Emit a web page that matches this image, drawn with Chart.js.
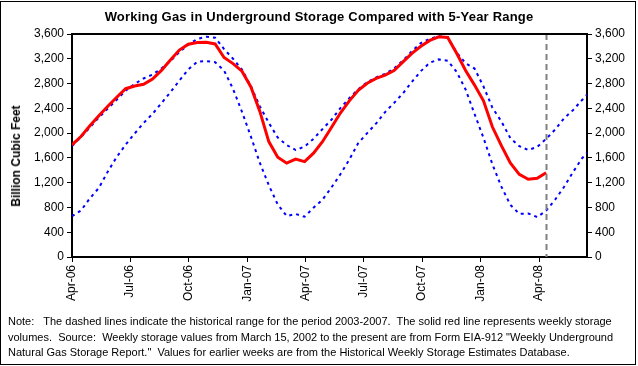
<!DOCTYPE html>
<html>
<head>
<meta charset="utf-8">
<script src="https://cdn.jsdelivr.net/npm/chart.js@4.4.1/dist/chart.umd.min.js"></script>
<style>
  html, body { margin: 0; padding: 0; background: #fff; }
  #wrap { position: relative; width: 638px; height: 366px; overflow: hidden; font-family: "Liberation Sans", Arial, sans-serif; }
  #frame { position: absolute; left: 0; top: 1px; width: 634px; height: 362px; border: 1px solid #000; }
  #chart { position: absolute; left: 0; top: 0; }
  #title { position: absolute; left: 0; width: 638px; top: 9px; text-align: center; font-weight: bold; font-size: 13px; letter-spacing: 0.2px; line-height: 16px; }
  #ytitle { position: absolute; left: 15.5px; top: 156px; font-weight: bold; font-size: 12px; line-height: 14px; white-space: nowrap;
            transform: translate(-50%, -50%) rotate(-90deg); }
  #note { position: absolute; left: 8px; top: 314px; font-size: 11px; line-height: 15.5px; white-space: pre; }
</style>
</head>
<body>
<div id="wrap">
  <div id="frame"></div>
  <canvas id="chart" width="638" height="366"></canvas>
  <div id="title">Working Gas in Underground Storage Compared with 5-Year Range</div>
  <div id="ytitle">Billion Cubic Feet</div>
  <div id="note">Note:   The dashed lines indicate the historical range for the period 2003-2007.  The solid red line represents weekly storage
volumes.  Source:  Weekly storage values from March 15, 2002 to the present are from Form EIA-912 "Weekly Underground
Natural Gas Storage Report."  Values for earlier weeks are from the Historical Weekly Storage Estimates Database.</div>
</div>
<script>
  // days since 2006-04-01
  const days = [0, 14, 28, 42, 56, 70, 84, 98, 112, 126, 140, 154, 168, 182, 196, 210, 224, 238, 252, 266,
    280, 294, 308, 322, 336, 350, 364, 378, 392, 406, 420, 434, 448, 462, 476, 490, 504, 518, 532, 546,
    560, 574, 588, 602, 616, 630, 644, 658, 672, 686, 700, 714, 728, 742, 756, 770, 784, 798, 806];

  // 5-year range (2003-2007), billion cubic feet
  const rangeMax = [1790, 1935, 2091, 2251, 2396, 2539, 2685, 2794, 2882, 2945, 3044, 3162, 3310, 3426, 3520, 3556, 3540, 3357, 3200, 3026,
    2757, 2431, 2166, 1928, 1808, 1727, 1783, 1908, 2065, 2215, 2404, 2565, 2709, 2820, 2900, 2955, 3042, 3172, 3323, 3455,
    3522, 3563, 3545, 3300, 3128, 3042, 2753, 2409, 2188, 1920, 1790, 1727, 1776, 1905, 2056, 2237, 2370, 2531, 2620];
  const rangeMin = [660, 750, 948, 1115, 1378, 1615, 1815, 1993, 2162, 2310, 2484, 2661, 2847, 3029, 3152, 3163, 3145, 3010, 2714, 2345,
    1944, 1518, 1158, 848, 662, 694, 650, 796, 925, 1121, 1336, 1573, 1839, 2000, 2156, 2340, 2487, 2642, 2829, 3001,
    3137, 3190, 3168, 2988, 2705, 2309, 1924, 1495, 1136, 842, 697, 703, 645, 747, 924, 1130, 1368, 1591, 1680];

  // weekly storage (first 54 dates)
  const storage = [1810, 1945, 2119, 2281, 2434, 2578, 2717, 2760, 2788, 2873, 3012, 3179, 3340, 3436, 3462, 3468, 3440, 3220, 3122, 3000,
    2746, 2350, 1863, 1612, 1515, 1580, 1540, 1676, 1861, 2090, 2324, 2520, 2690, 2805, 2883, 2935, 3010, 3151, 3288, 3401,
    3497, 3555, 3545, 3290, 3011, 2775, 2522, 2098, 1797, 1520, 1335, 1254, 1270, 1360];

  const tickDays = [0, 91, 183, 275, 365, 456, 548, 640, 731];
  const tickLabels = ["Apr-06", "Jul-06", "Oct-06", "Jan-07", "Apr-07", "Jul-07", "Oct-07", "Jan-08", "Apr-08"];
  const latestDay = 742;

  function pts(vals) {
    return vals.map((v, i) => ({ x: days[i], y: v }));
  }

  const fontTicks = { family: "'Liberation Sans', Arial, sans-serif", size: 12 };

  // top border of plot box + dashed marker for latest week
  const framePlugin = {
    id: "framePlugin",
    afterDatasetsDraw(chart) {
      const { ctx, chartArea } = chart;
      const x = Math.round(chart.scales.x.getPixelForValue(latestDay)) + 0.5;
      ctx.save();
      ctx.strokeStyle = "#808080";
      ctx.lineWidth = 2;
      ctx.setLineDash([6, 4]);
      ctx.beginPath();
      ctx.moveTo(x, chartArea.top);
      ctx.lineTo(x, chartArea.bottom);
      ctx.stroke();
      ctx.setLineDash([]);
      ctx.strokeStyle = "#000";
      ctx.beginPath();
      ctx.moveTo(chartArea.left - 1, chartArea.top);
      ctx.lineTo(chartArea.right + 1, chartArea.top);
      ctx.stroke();
      ctx.restore();
    }
  };

  function yAxis(pos, width) {
    return {
      type: "linear",
      position: pos,
      min: 0,
      max: 3600,
      afterFit: (s) => { s.width = width; },
      ticks: {
        stepSize: 400,
        color: "#000",
        font: fontTicks,
        padding: 3,
        callback: (v) => v.toLocaleString("en-US")
      },
      grid: { drawOnChartArea: false, drawTicks: true, tickLength: 5, color: "#000", lineWidth: 1 },
      border: { display: true, color: "#000", width: 2 }
    };
  }

  new Chart(document.getElementById("chart"), {
    type: "line",
    data: {
      datasets: [
        { label: "Storage", data: pts(storage), borderColor: "#ff0000", borderWidth: 3, pointRadius: 0, tension: 0 },
        { label: "5-Year Max", data: pts(rangeMax), borderColor: "#0000ff", borderWidth: 2, borderDash: [3, 4], pointRadius: 0, tension: 0 },
        { label: "5-Year Min", data: pts(rangeMin), borderColor: "#0000ff", borderWidth: 2, borderDash: [3, 4], pointRadius: 0, tension: 0 }
      ]
    },
    options: {
      responsive: false,
      animation: false,
      devicePixelRatio: 1,
      layout: { padding: { top: 34, left: 0, right: 0, bottom: 0 } },
      plugins: { legend: { display: false }, tooltip: { enabled: false }, title: { display: false } },
      scales: {
        x: {
          type: "linear",
          min: 0,
          max: 806,
          afterFit: (s) => { s.height = 109; },
          afterBuildTicks: (s) => { s.ticks = tickDays.map((d) => ({ value: d })); },
          ticks: {
            color: "#000",
            font: fontTicks,
            minRotation: 90,
            maxRotation: 90,
            autoSkip: false,
            padding: 3,
            callback: (v) => tickLabels[tickDays.indexOf(v)] || ""
          },
          grid: { drawOnChartArea: false, drawTicks: true, tickLength: 5, color: "#000", lineWidth: 1 },
          border: { display: true, color: "#000", width: 2 }
        },
        y: yAxis("left", 72),
        y2: yAxis("right", 51)
      }
    },
    plugins: [framePlugin]
  });
</script>
</body>
</html>
